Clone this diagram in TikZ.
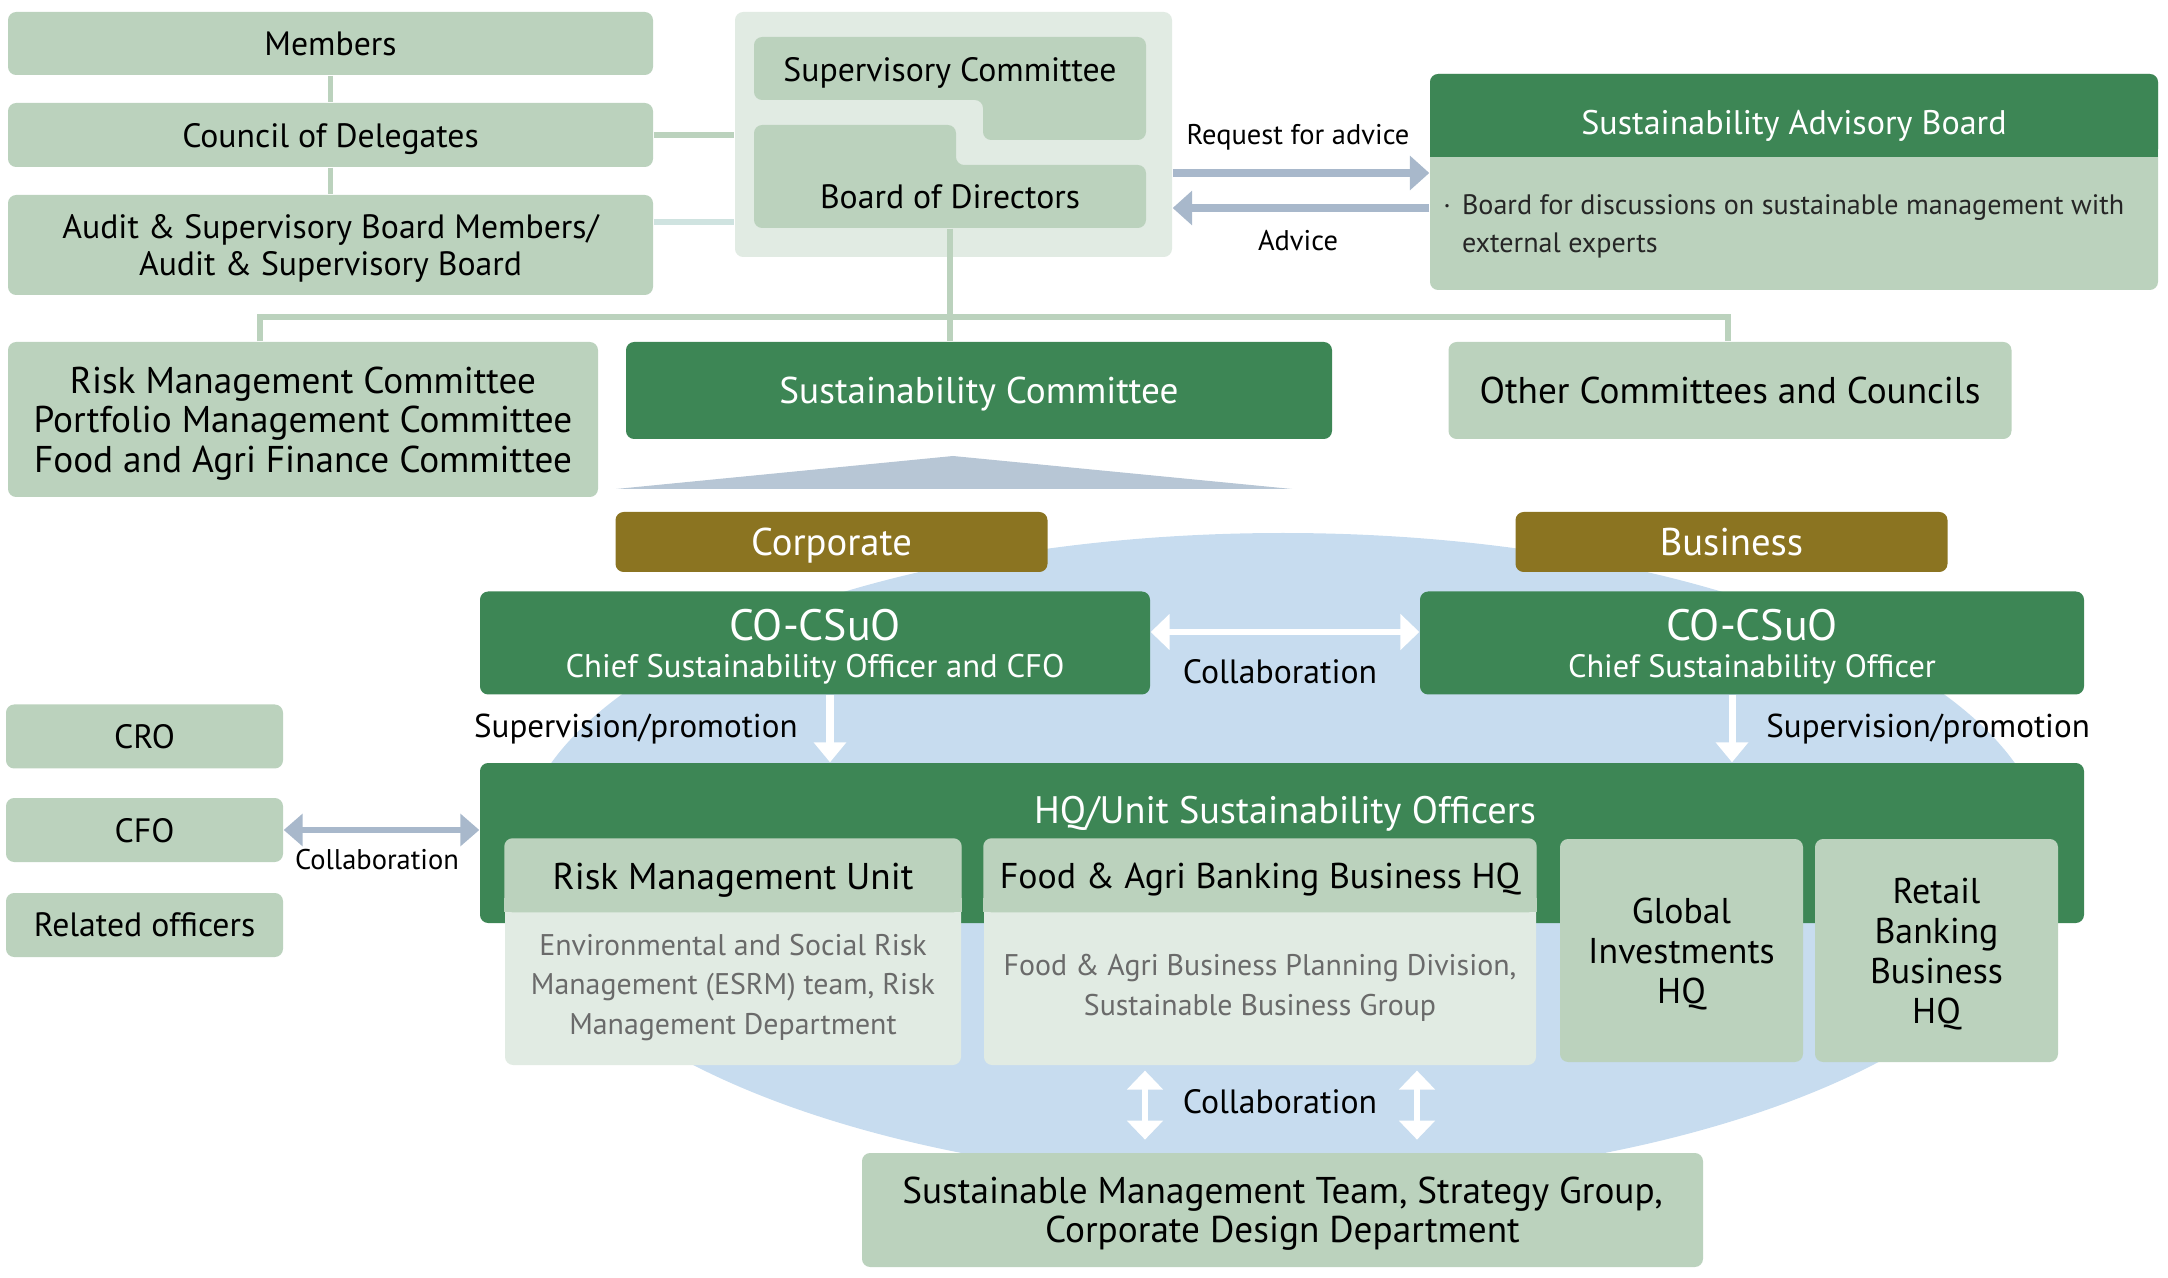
\documentclass[tikz,border=0pt]{standalone}
\usepackage{fontspec}
\setmainfont{PT Sans}
\usetikzlibrary{arrows.meta}
\begin{document}
\begin{tikzpicture}[x=0.1mm,y=-0.1mm,
  box/.style={rounded corners=2.3pt,inner sep=0pt,align=center,text depth=0pt},
  lbox/.style={box,fill=lgreen},
  dbox/.style={box,fill=dgreen,text=white},
  gbox/.style={box,fill=gold,text=white,font=\fontsize{11}{12}\selectfont,minimum width=43.2mm,minimum height=6mm},
  conn/.style={draw=lgreen,line width=1.6pt},
  barrow/.style={draw=bgrey,line width=2pt,-{Triangle[length=5.5pt,width=9.5pt]}},
  bdouble/.style={draw=bgrey,line width=1.7pt,{Triangle[length=5.4pt,width=9pt]}-{Triangle[length=5.4pt,width=9pt]}},
  warrow/.style={draw=white,line width=2pt,-{Triangle[length=5.7pt,width=9pt]}},
  wdouble/.style={draw=white,line width=1.5pt,{Triangle[length=5.4pt,width=10pt]}-{Triangle[length=5.4pt,width=10pt]}},
  fmain/.style={font=\fontsize{9.6}{10.6}\selectfont},
  fbig/.style={font=\fontsize{10.6}{11.2}\selectfont},
  fsmall/.style={font=\fontsize{8.1}{10.8}\selectfont}]
\definecolor{lgreen}{HTML}{BBD2BD}
\definecolor{dgreen}{HTML}{3D8655}
\definecolor{gold}{HTML}{8B7421}
\definecolor{pale}{HTML}{E1EBE3}
\definecolor{skyblue}{HTML}{C7DCEF}
\definecolor{bgrey}{HTML}{A8B8CB}
\definecolor{tgrey}{HTML}{B7C6D5}
\definecolor{aqua}{HTML}{CFE3E0}
\definecolor{dtext}{HTML}{6A6A6A}
\useasboundingbox (0,0) rectangle (2168,1278);
\fill[skyblue] (1283,858) ellipse [x radius=765, y radius=325];
\fill[tgrey] (616,489) -- (953,456) -- (1292,489) -- cycle;

\foreach \nm/\txt/\yy/\hh in {mem/Members/43.5/6.3mm,cod/Council of Delegates/135/6.4mm,asb/{Audit \& Supervisory Board Members/\\Audit \& Supervisory Board}/245/10mm}
  {\node[lbox,fmain,minimum width=64.5mm,minimum height=\hh] (\nm) at (330.5,\yy) {\txt};}
\draw[conn] (mem) -- (cod);
\draw[conn] (cod) -- (asb);

\node[box,fill=pale,minimum width=43.7mm,minimum height=24.5mm] (gov) at (953.5,134.5) {};
\fill[lgreen,rounded corners=2.3pt] (754,37) -- (1146,37) -- (1146,140) -- (983,140) -- (983,100) -- (754,100) -- cycle;
\fill[lgreen,rounded corners=2.3pt] (754,125) -- (956,125) -- (956,165) -- (1146,165) -- (1146,228) -- (754,228) -- cycle;
\node[fmain] (sup) at (950,73) {Supervisory Committee};
\node[fmain,minimum width=39.2mm,minimum height=6.3mm] (bod) at (950,196.5) {Board of Directors};
\draw[conn] (cod) -- (cod -| gov.west);
\coordinate (al) at (700,222);
\draw[conn,draw=aqua] (al -| asb.east) -- (al -| gov.west);

\node[box,fill=lgreen,minimum width=72.8mm,minimum height=21.6mm] (sab) at (1794,182) {};
\fill[dgreen,rounded corners=2.3pt] (1430,74) rectangle (2158,157);
\fill[dgreen] (1430,140) rectangle (2158,157);
\node[font=\fontsize{9.7}{11}\selectfont,text=white,text depth=0pt] (sabh) at (1794,122) {Sustainability Advisory Board};
\node[font=\fontsize{8}{10.8}\selectfont,anchor=north west,align=left,text=black!85] (sabt) at (1431,182)
  {\makebox[5.3pt][l]{·}Board for discussions on sustainable management with\\\hspace*{5.3pt}external experts};
\coordinate (rq) at (1300,173);
\coordinate (ad) at (1300,208);
\draw[barrow] (rq -| gov.east) -- (rq -| sab.west);
\draw[barrow] (ad -| sab.west) -- (ad -| gov.east);
\node[fsmall] (rql) at (1298,137) {Request for advice};
\node[fsmall] (adl) at (1298,241) {Advice};

\node[lbox,fbig,minimum width=59mm,minimum height=15.5mm] (rmc) at (303,419.5)
  {Risk Management Committee\\Portfolio Management Committee\\Food and Agri Finance Committee};
\node[dbox,fbig,minimum width=70.6mm,minimum height=9.7mm] (suc) at (979,390.5) {Sustainability Committee};
\node[lbox,fbig,minimum width=56.3mm,minimum height=9.7mm] (ocm) at (1730,390.5) {Other Committees and Councils};
\coordinate (tl) at (260,317);
\coordinate (tr) at (1728,317);
\draw[conn] (bod.south) -- (bod.south |- suc.north);
\draw[conn] (rmc.north -| tl) -- (tl) -- (tr) -- (ocm.north -| tr);

\node[gbox] (corp) at (831.5,542) {Corporate};
\node[gbox] (bus) at (1731.5,542) {Business};
\node[dbox,font=\fontsize{9.3}{10.6}\selectfont,minimum width=67mm,minimum height=10.3mm] (cso1) at (815,643)
  {{\fontsize{12.5}{10.6}\selectfont CO-CSuO}\\Chief Sustainability Officer and CFO};
\node[dbox,font=\fontsize{9.2}{10.6}\selectfont,minimum width=66.4mm,minimum height=10.3mm] (cso2) at (1752,643)
  {{\fontsize{12.5}{10.6}\selectfont CO-CSuO}\\Chief Sustainability Officer};
\coordinate (cm) at (1280,632);
\draw[wdouble] (cm -| cso1.east) -- (cm -| cso2.west);
\node[fmain] (cml) at (1280,672) {Collaboration};

\node[dbox,minimum width=160.4mm,minimum height=16mm] (hq) at (1282,843) {};
\node[font=\fontsize{10.9}{12}\selectfont,text=white,text depth=0pt] (hqt) at (1285,810) {HQ/Unit Sustainability Officers};
\coordinate (s1) at (830,730);
\coordinate (s2) at (1732,730);
\draw[warrow] (s1 |- cso1.south) -- (s1 |- hq.north);
\draw[warrow] (s2 |- cso2.south) -- (s2 |- hq.north);
\node[font=\fontsize{9.4}{10.6}\selectfont,anchor=east] (s1l) at (810,729) {Supervision/promotion};
\node[font=\fontsize{9.4}{10.6}\selectfont,anchor=west] (s2l) at (1754,729) {Supervision/promotion};

\foreach \nm/\xx/\ww/\fs/\ttl/\txt/\ty in {rmu/733/45.6mm/10.6/Risk Management Unit/{Environmental and Social Risk\\Management (ESRM) team, Risk\\Management Department}/984,fab/1260/55.2mm/10.2/Food \& Agri Banking Business HQ/{Food \& Agri Business Planning Division,\\Sustainable Business Group}/985}
  {\node[box,fill=pale,minimum width=\ww,minimum height=22.6mm] (\nm) at (\xx,952) {};
   \fill[lgreen,rounded corners=2.3pt] (\nm.north west) rectangle ([yshift=-7.4mm]\nm.north east);
   \fill[lgreen] ([yshift=-6mm]\nm.north west) rectangle ([yshift=-7.4mm]\nm.north east);
   \node[font=\fontsize{\fs}{12}\selectfont,text depth=0pt] (\nm t) at (\xx,876) {\ttl};
   \node[font=\fontsize{8.5}{11.2}\selectfont,align=center,text=dtext,text depth=0pt] (\nm b) at (\xx,\ty) {\txt};}
\node[lbox,font=\fontsize{10.2}{11.4}\selectfont,minimum width=24.3mm,minimum height=22.3mm] (gih) at (1681.5,950.5) {Global\\Investments\\HQ};
\node[lbox,font=\fontsize{10.2}{11.4}\selectfont,minimum width=24.3mm,minimum height=22.3mm] (rbh) at (1936.5,950.5) {Retail\\Banking\\Business\\HQ};

\node[lbox,fbig,minimum width=84.1mm,minimum height=11.4mm] (smt) at (1282.5,1210)
  {Sustainable Management Team, Strategy Group,\\Corporate Design Department};
\coordinate (c1) at (1145,1100);
\coordinate (c2) at (1417,1100);
\draw[wdouble,shorten <=1.4pt,shorten >=3.6pt] (c1 |- fab.south) -- (c1 |- smt.north);
\draw[wdouble,shorten <=1.4pt,shorten >=3.6pt] (c2 |- fab.south) -- (c2 |- smt.north);
\node[fmain] (c1l) at (1280,1102) {Collaboration};

\foreach \nm/\txt/\yy in {cro/CRO/736.5,cfo/CFO/830,rel/Related officers/925}
  {\node[lbox,fmain,minimum width=27.7mm,minimum height=6.4mm] (\nm) at (144.5,\yy) {\txt};}
\draw[bdouble] (cfo.east) -- (cfo.east -| hq.west);
\node[fsmall] (cfl) at (377,860) {Collaboration};
\end{tikzpicture}
\end{document}
